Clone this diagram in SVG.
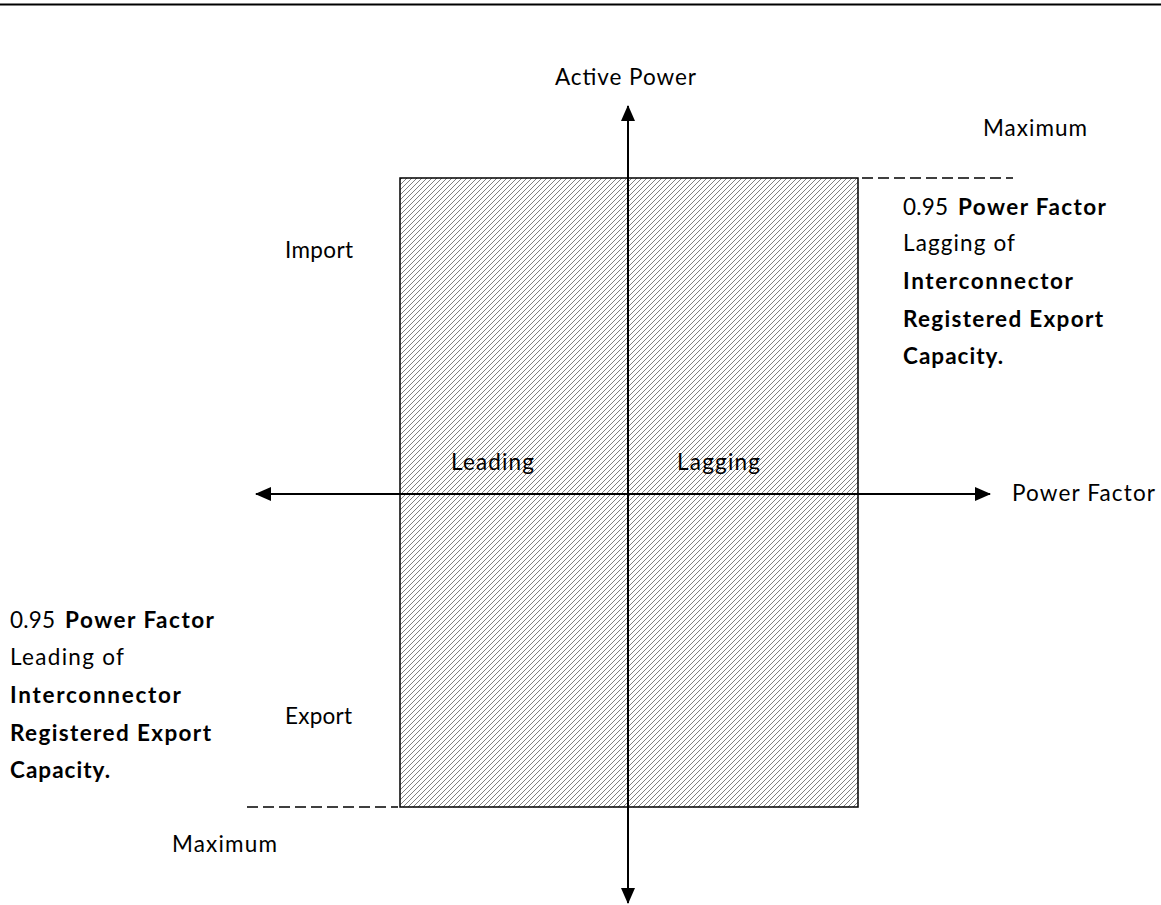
<svg xmlns="http://www.w3.org/2000/svg" width="1161" height="905" viewBox="0 0 1161 905">
<style>
text{font-family:Lato,"Open Sans","Liberation Sans",sans-serif;font-size:22.5px;fill:#000}
.b{font-weight:bold}
.ax{stroke:#000;stroke-width:2;fill:none}
.dash{stroke:#000;stroke-width:1.6;stroke-dasharray:11 5;fill:none}
</style>
<defs>
<pattern id="hatch" patternUnits="userSpaceOnUse" width="5" height="5">
<path d="M-1,6 L6,-1 M-1,1 L1,-1 M4,6 L6,4" stroke="#808080" stroke-width="1"/>
</pattern>
<marker id="ahb" markerWidth="16" markerHeight="14" refX="15" refY="7" orient="auto" markerUnits="userSpaceOnUse" viewBox="0 0 16 14">
<path d="M0,0 L16,7 L0,14 Z" fill="#000"/>
</marker>
</defs>
<rect width="1161" height="905" fill="#fff"/>
<line x1="0" y1="4.5" x2="1161" y2="4.5" stroke="#000" stroke-width="2"/>
<g id="region">
<rect x="400" y="178" width="458" height="629" fill="url(#hatch)" stroke="#000" stroke-width="1.5"/>
</g>
<g id="connectors">
<line class="ax" x1="628" y1="890" x2="628" y2="106" marker-end="url(#ahb)"/>
<line class="ax" x1="628" y1="300" x2="628" y2="903" marker-end="url(#ahb)"/>
<line class="ax" x1="628" y1="494" x2="256" y2="494" marker-end="url(#ahb)"/>
<line class="ax" x1="628" y1="494" x2="990" y2="494" marker-end="url(#ahb)"/>
<line class="dash" x1="862" y1="178" x2="1013" y2="178"/>
<line class="dash" x1="247" y1="807" x2="398" y2="807"/>
</g>
<g id="axis-labels">
<text x="555" y="85" textLength="141">Active Power</text>
<text x="1012" y="501" textLength="143">Power Factor</text>
<text x="983" y="136" textLength="104">Maximum</text>
<text x="172" y="852" textLength="105">Maximum</text>
<text x="285" y="258" textLength="68">Import</text>
<text x="285" y="724" textLength="67">Export</text>
<text x="451" y="470" textLength="83">Leading</text>
<text x="677" y="470" textLength="83">Lagging</text>
</g>
<g id="note-lagging">
<text x="903" y="215" textLength="45">0.95</text>
<text class="b" x="958" y="215" textLength="148">Power Factor</text>
<text x="903" y="251" textLength="112">Lagging of</text>
<text class="b" x="903" y="289" textLength="170">Interconnector</text>
<text class="b" x="903" y="327" textLength="200">Registered Export</text>
<text class="b" x="903" y="364" textLength="100">Capacity.</text>
</g>
<g id="note-leading">
<text x="10" y="628" textLength="45">0.95</text>
<text class="b" x="65" y="628" textLength="149">Power Factor</text>
<text x="10" y="665" textLength="114">Leading of</text>
<text class="b" x="10" y="703" textLength="171">Interconnector</text>
<text class="b" x="10" y="741" textLength="201">Registered Export</text>
<text class="b" x="10" y="778" textLength="100">Capacity.</text>
</g>
</svg>
